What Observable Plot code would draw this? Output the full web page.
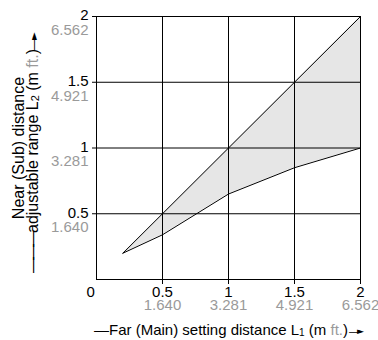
<!DOCTYPE html>
<html><head><meta charset="utf-8">
<script src="https://cdn.jsdelivr.net/npm/d3@7"></script>
<script src="https://cdn.jsdelivr.net/npm/@observablehq/plot@0.6"></script>
<style>body{margin:0;background:#fff}</style>
</head><body><div id="chart"></div>
<script>
const farM = [0.2, 0.5, 1, 1.5, 2];
const nearMax = [0.2, 0.5, 1, 1.5, 2];
const nearMin = [0.2, 0.34, 0.65, 0.85, 1.0];
const tickM = [0.5, 1, 1.5, 2];
const tickFt = ["1.640", "3.281", "4.921", "6.562"];
const originLabel = ["0"];
const data = farM.map((x, i) => ({x, lo: nearMin[i], hi: nearMax[i]}));
const font = "'Liberation Sans', Arial, Helvetica, sans-serif";
const gray = "#9a9a9a";
const fs = 15;

const plot = Plot.plot({
  width: 378, height: 340,
  marginLeft: 96, marginRight: 18, marginTop: 16, marginBottom: 61,
  style: {fontFamily: font, fontSize: fs + "px", background: "#fff", overflow: "visible"},
  x: {domain: [0, 2]},
  y: {domain: [0, 2]},
  marks: [
    Plot.areaY(data, {x: "x", y1: "lo", y2: "hi", fill: "#e6e6e6"}),
    Plot.gridX(tickM, {stroke: "#000", strokeOpacity: 1, strokeWidth: 1}),
    Plot.gridY(tickM, {stroke: "#000", strokeOpacity: 1, strokeWidth: 1}),
    Plot.frame({stroke: "#000", strokeWidth: 1}),
    Plot.axisX(tickM, {tickSize: 5, tickFormat: () => "", stroke: "#000", label: null}),
    Plot.axisY(tickM, {tickSize: 4, tickFormat: () => "", stroke: "#000", label: null}),
    Plot.lineY(data, {x: "x", y: "hi", stroke: "#000", strokeWidth: 1}),
    Plot.lineY(data, {x: "x", y: "lo", stroke: "#000", strokeWidth: 1}),
    Plot.text(tickM, {x: d => d, frameAnchor: "bottom", dy: 17, text: d => String(d), fill: "#000", fontSize: fs}),
    Plot.text(tickM, {x: d => d, frameAnchor: "bottom", dy: 30.5, text: (d, i) => tickFt[i], fill: gray, fontSize: fs}),
    Plot.text(tickM, {y: d => d, frameAnchor: "left", textAnchor: "end", dx: -8, dy: -1, text: d => String(d), fill: "#000", fontSize: fs}),
    Plot.text(tickM, {y: d => d, frameAnchor: "left", textAnchor: "end", dx: -8, dy: 13.5, text: (d, i) => tickFt[i], fill: gray, fontSize: fs}),
    Plot.text(originLabel, {frameAnchor: "bottom-left", dx: -10, dy: 17, text: d => d, fill: "#000", fontSize: fs})
  ]
});

const svg = d3.select(plot);
// x-axis title
const xt = svg.append("text")
  .attr("x", 94).attr("y", 335).attr("text-anchor", "start")
  .attr("font-family", font).attr("font-size", 15).attr("fill", "#000");
xt.append("tspan").text("—Far (Main) setting distance L");
xt.append("tspan").attr("font-size", 10).attr("dy", 1).text("1");
xt.append("tspan").attr("dy", -1).text(" (m ");
xt.append("tspan").attr("fill", gray).text("ft.");
xt.append("tspan").text(")");
xt.append("tspan").attr("font-size", 10).attr("dx", 1).text("—");
xt.append("tspan").attr("font-size", 9).attr("dx", -2).attr("dy", -1).attr("font-family", "DejaVu Sans").text("►");

// y-axis title (rotated, two lines)
const yfs = 16;
svg.append("text")
  .attr("transform", "translate(23.5,148) rotate(-90)")
  .attr("text-anchor", "middle")
  .attr("font-family", font).attr("font-size", yfs).attr("fill", "#000")
  .text("Near (Sub) distance");
const yt2 = svg.append("text")
  .attr("transform", "translate(38,141) rotate(-90)")
  .attr("text-anchor", "middle")
  .attr("font-family", font).attr("font-size", yfs).attr("fill", "#000");
yt2.append("tspan").text("adjustable range L");
yt2.append("tspan").attr("font-size", 11).attr("dy", 1).text("2");
yt2.append("tspan").attr("dy", -1).text(" (m ");
yt2.append("tspan").attr("fill", gray).text("ft.");
yt2.append("tspan").text(")");
// leading dash below the text
svg.append("text")
  .attr("transform", "translate(38,273) rotate(-90)")
  .attr("text-anchor", "start")
  .attr("font-family", font).attr("font-size", yfs).attr("fill", "#000")
  .attr("letter-spacing", -3)
  .text("———");
// trailing dash + arrow above the text
const ya = svg.append("text")
  .attr("transform", "translate(38,51) rotate(-90)")
  .attr("text-anchor", "start")
  .attr("font-family", font).attr("font-size", 13).attr("fill", "#000");
ya.append("tspan").text("—");
ya.append("tspan").attr("font-size", 10).attr("dx", -2).attr("dy", -1).attr("font-family", "DejaVu Sans").text("►");

document.getElementById("chart").appendChild(plot);
</script>
</body></html>
